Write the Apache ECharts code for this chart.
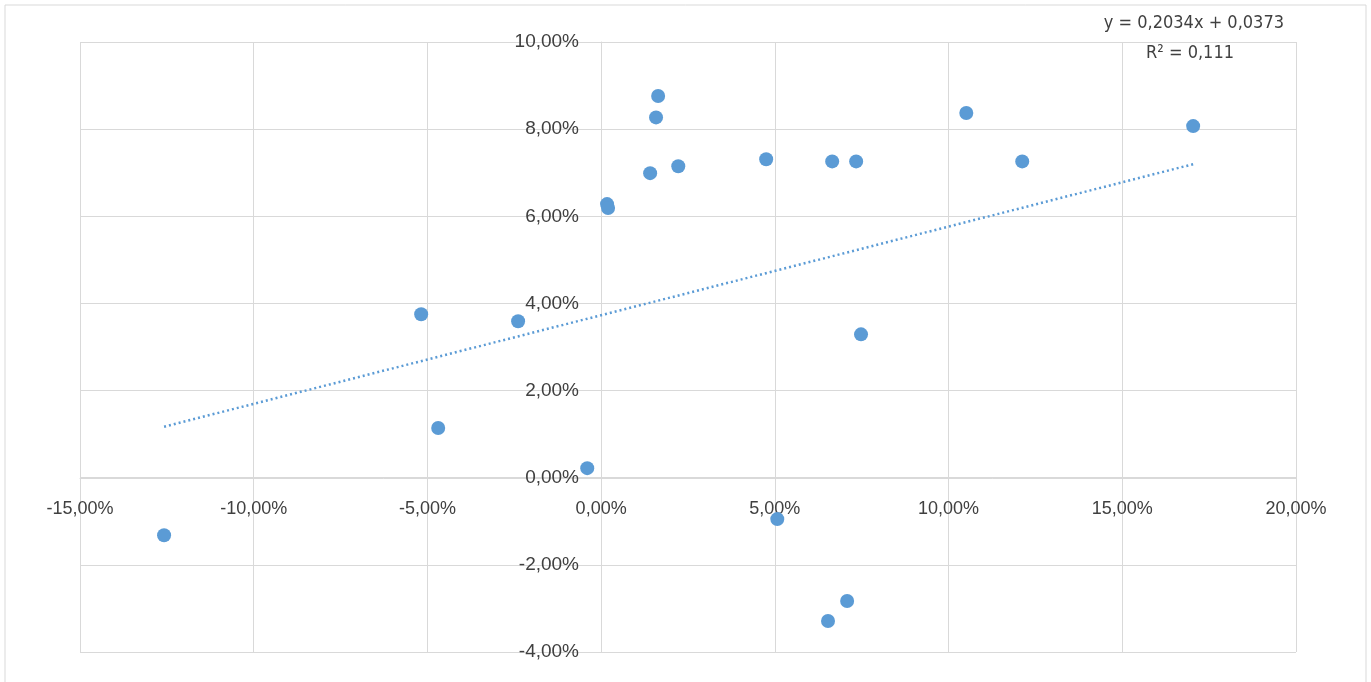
<!DOCTYPE html>
<html><head><meta charset="utf-8">
<script src="https://cdn.jsdelivr.net/npm/echarts@6/dist/echarts.min.js"></script>
<style>html,body{margin:0;background:#fff}#c{width:1371px;height:682px}</style>
</head><body><div id="c"></div>
<script>
// x and y values in percent
const xVals = [-12.58, -5.18, -4.69, -2.39, -0.40, 0.17, 0.20, 1.41, 1.58, 1.64, 2.22, 4.75, 5.07, 6.53, 6.65, 7.08, 7.34, 7.48, 10.51, 12.12, 17.04];
const yVals = [-1.32, 3.75, 1.14, 3.59, 0.22, 6.28, 6.19, 6.99, 8.27, 8.76, 7.15, 7.31, -0.95, -3.29, 7.26, -2.83, 7.26, 3.29, 8.37, 7.26, 8.07];
const slope = 0.2034, intercept = 3.73;
const trendX = [Math.min(...xVals), Math.max(...xVals)];

const fmt = v => v.toFixed(2).replace('.', ',') + '%';
const chart = echarts.init(document.getElementById('c'));
chart.setOption({
  animation: false,
  grid: { left: 80, right: 75, top: 42, bottom: 30, outerBoundsMode: 'none', containLabel: false },
  graphic: [
    { type: 'rect', shape: { x: 5, y: 5, width: 1361, height: 690 }, style: { fill: 'none', stroke: '#d9d9d9' } },
    { type: 'text', right: 87, top: 14, style: { text: 'y = 0,2034x + 0,0373', font: '18px "Liberation Sans Narrow", "DejaVu Sans Condensed", sans-serif', fill: '#404040' } },
    { type: 'text', right: 137, top: 44, style: { text: 'R² = 0,111', font: '18px "Liberation Sans Narrow", "DejaVu Sans Condensed", sans-serif', fill: '#404040' } }
  ],
  xAxis: {
    type: 'value', min: -15, max: 20, interval: 5,
    position: 'bottom', offset: -174,
    axisLine: { onZero: false, lineStyle: { color: '#d9d9d9' } },
    axisTick: { show: false },
    axisLabel: { formatter: fmt, color: '#404040', fontSize: 18, margin: 22, fontFamily: 'Liberation Sans' },
    splitLine: { lineStyle: { color: '#d9d9d9' } }
  },
  yAxis: {
    type: 'value', min: -4, max: 10, interval: 2,
    position: 'left', offset: -521,
    axisLine: { onZero: false, lineStyle: { color: '#d9d9d9' } },
    axisTick: { show: false },
    axisLabel: { formatter: fmt, color: '#404040', fontSize: 19, margin: 22, fontFamily: 'Liberation Sans' },
    splitLine: { lineStyle: { color: '#d9d9d9' } }
  },
  series: [
    {
      type: 'scatter', symbolSize: 14,
      itemStyle: { color: '#5b9bd5', opacity: 1 },
      data: xVals.map((x, i) => [x, yVals[i]]), z: 3
    },
    {
      type: 'line', showSymbol: false, symbol: 'none',
      lineStyle: { color: '#5b9bd5', width: 2.5, type: [2, 3] },
      data: trendX.map(x => [x, slope * x + intercept])
    }
  ]
});
</script></body></html>
